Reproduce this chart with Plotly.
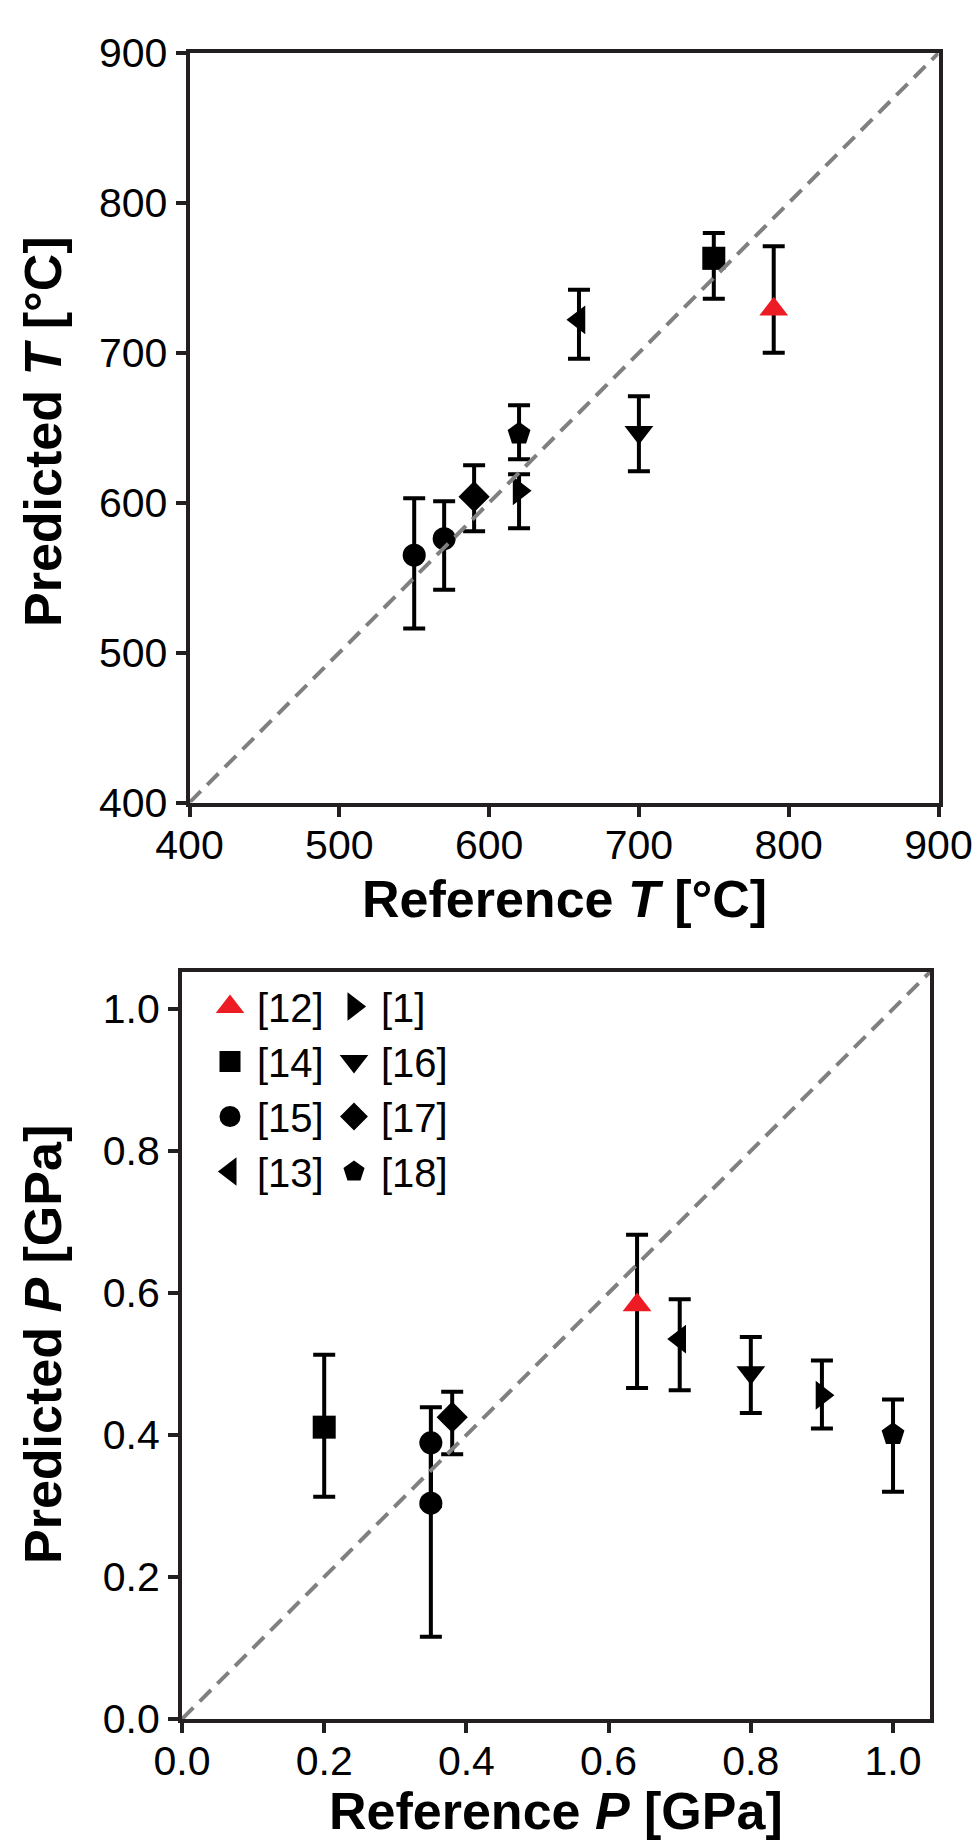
import plotly.graph_objects as go

# ---------------- data ----------------
sources = ["[12]", "[14]", "[15]", "[15]", "[13]", "[1]", "[16]", "[17]", "[18]"]

T_ref = [790, 750, 550, 570, 660, 620, 700, 590, 620]
T_pred = [729, 763, 565, 576, 722, 608, 647, 604, 646]
T_upper = [771, 780, 603, 601, 742, 619, 671, 625, 665]
T_lower = [700, 736, 516, 542, 696, 583, 621, 581, 629]

P_ref = [0.64, 0.20, 0.35, 0.35, 0.70, 0.90, 0.80, 0.38, 1.00]
P_pred = [0.583, 0.411, 0.389, 0.304, 0.535, 0.456, 0.488, 0.425, 0.401]
P_upper = [0.682, 0.513, 0.439, 0.389, 0.591, 0.505, 0.538, 0.461, 0.450]
P_lower = [0.466, 0.313, 0.300, 0.116, 0.463, 0.409, 0.431, 0.373, 0.320]

identity_T = [400, 900]
identity_P = [0.0, 1.052]

T_ticks = [400, 500, 600, 700, 800, 900]
P_ticks = [0.0, 0.2, 0.4, 0.6, 0.8, 1.0]

legend_col1 = ["[12]", "[14]", "[15]", "[13]"]
legend_col2 = ["[1]", "[16]", "[17]", "[18]"]

# ---------------- styles ----------------
RED = "#ed1c24"
BLACK = "#000000"
FRAME = "#231f20"
FONT = "Liberation Sans, Arial, Helvetica, sans-serif"

style = {
    "[12]": dict(symbol="triangle-up", color=RED, size=25),
    "[14]": dict(symbol="square", color=BLACK, size=23),
    "[15]": dict(symbol="circle", color=BLACK, size=23),
    "[13]": dict(symbol="triangle-left", color=BLACK, size=25),
    "[1]": dict(symbol="triangle-right", color=BLACK, size=25),
    "[16]": dict(symbol="triangle-down", color=BLACK, size=25),
    "[17]": dict(symbol="diamond", color=BLACK, size=24),
    "[18]": dict(symbol="pentagon", color=BLACK, size=24),
}

fig = go.Figure()


def add_points(xs, ys, up, lo, xa, ya):
    order = []
    for s in sources:
        if s not in order:
            order.append(s)
    for s in order:
        idx = [i for i, v in enumerate(sources) if v == s]
        st = style[s]
        fig.add_trace(go.Scatter(
            x=[xs[i] for i in idx],
            y=[ys[i] for i in idx],
            mode="markers",
            marker=dict(symbol=st["symbol"], size=st["size"], color=st["color"],
                        line=dict(width=0)),
            error_y=dict(type="data", symmetric=False,
                         array=[up[i] - ys[i] for i in idx],
                         arrayminus=[ys[i] - lo[i] for i in idx],
                         color=BLACK, thickness=4, width=11),
            xaxis=xa, yaxis=ya, showlegend=False, name=s,
        ))


add_points(T_ref, T_pred, T_upper, T_lower, "x", "y")
add_points(P_ref, P_pred, P_upper, P_lower, "x2", "y2")

# identity (1:1) lines on top
fig.add_trace(go.Scatter(x=identity_T, y=identity_T, mode="lines",
                         line=dict(color="#808080", width=4, dash="16px,9px"),
                         xaxis="x", yaxis="y", showlegend=False, hoverinfo="skip"))
fig.add_trace(go.Scatter(x=identity_P, y=identity_P, mode="lines",
                         line=dict(color="#808080", width=4, dash="16px,9px"),
                         xaxis="x2", yaxis="y2", showlegend=False, hoverinfo="skip"))

# legend entries (marker only)
for col, lg in ((legend_col1, "legend"), (legend_col2, "legend2")):
    for s in col:
        st = style[s]
        fig.add_trace(go.Scatter(
            x=[None], y=[None], mode="markers", name=s,
            marker=dict(symbol=st["symbol"], size=16, color=st["color"],
                        line=dict(width=5, color=st["color"])),
            xaxis="x2", yaxis="y2", legend=lg, showlegend=True,
        ))

W, H = 973, 1842


def dom(a, b, total):
    return [a / total, b / total]


axis_common = dict(
    showline=True, linewidth=4, linecolor=FRAME, mirror=True,
    ticks="outside", ticklen=10, tickwidth=4, tickcolor=FRAME,
    showgrid=False, zeroline=False,
    tickfont=dict(family=FONT, size=41, color=BLACK),
    automargin=False, fixedrange=True,
)

legend_common = dict(
    xanchor="left", yanchor="top", bgcolor="rgba(0,0,0,0)", borderwidth=0,
    font=dict(family=FONT, size=40, color=BLACK), itemwidth=44,
    orientation="v", tracegroupgap=0,
)

fig.update_layout(
    width=W, height=H, autosize=False,
    margin=dict(l=0, r=0, t=0, b=0, pad=0),
    paper_bgcolor="white", plot_bgcolor="white",
    font=dict(family=FONT, color=BLACK),
    xaxis=dict(domain=dom(189.5, 938.5, W), range=[400, 900], tickvals=T_ticks,
               anchor="y", ticklabelstandoff=-7, **axis_common),
    yaxis=dict(domain=[1 - 802.5 / H, 1 - 53 / H], range=[400, 900], tickvals=T_ticks,
               anchor="x", **axis_common),
    xaxis2=dict(domain=dom(182, 930, W), range=[0, 1.052], tickvals=P_ticks,
                tickformat=".1f", anchor="y2", ticklabelstandoff=-7, **axis_common),
    yaxis2=dict(domain=[1 - 1719 / H, 1 - 972 / H], range=[0, 1.052], tickvals=P_ticks,
                tickformat=".1f", anchor="x2", **axis_common),
    legend=dict(x=203 / W, y=1 - 974 / H, **legend_common),
    legend2=dict(x=327 / W, y=1 - 974 / H, **legend_common),
    showlegend=True,
)

title_font = dict(family=FONT, size=52, color=BLACK)
annotations = [
    dict(text="<b>Reference <i>T</i> [°C]</b>", x=564 / W, y=1 - 899 / H,
         xanchor="center", yanchor="middle"),
    dict(text="<b>Reference <i>P</i> [GPa]</b>", x=556 / W, y=1 - 1811 / H,
         xanchor="center", yanchor="middle"),
    dict(text="<b>Predicted <i>T</i> [°C]</b>", x=43 / W, y=1 - 432 / H,
         xanchor="center", yanchor="middle", textangle=-90),
    dict(text="<b>Predicted <i>P</i> [GPa]</b>", x=43 / W, y=1 - 1345 / H,
         xanchor="center", yanchor="middle", textangle=-90),
]
for a in annotations:
    fig.add_annotation(xref="paper", yref="paper", showarrow=False, font=title_font, **a)

fig.write_html("out.html")
